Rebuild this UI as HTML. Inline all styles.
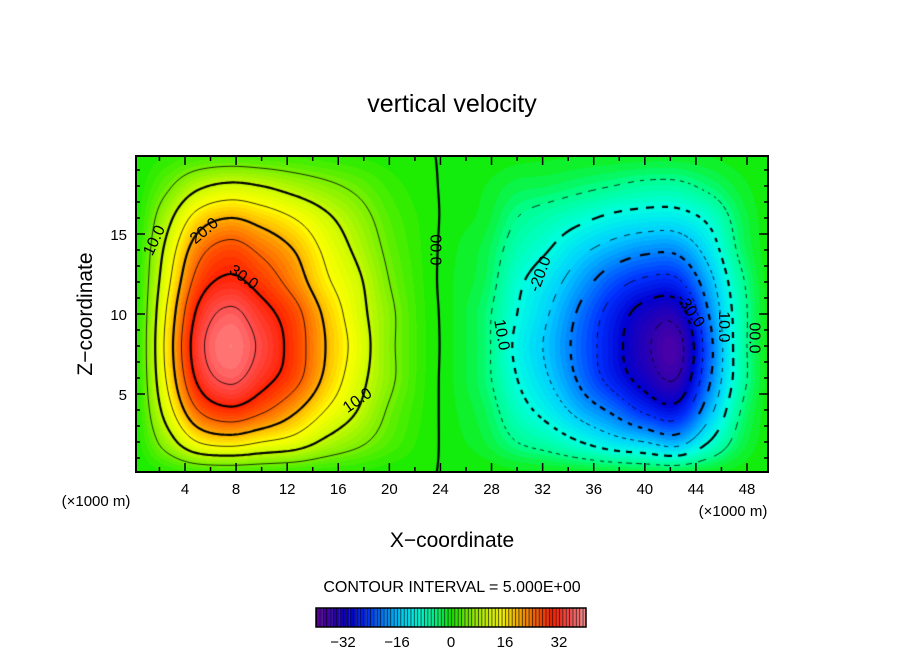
<!DOCTYPE html>
<html><head><meta charset="utf-8"><style>
body{margin:0;background:#fff;width:904px;height:654px;overflow:hidden;font-family:"Liberation Sans",sans-serif}
#wrap{position:relative;width:904px;height:654px}
canvas{position:absolute;left:0;top:0}
svg{position:absolute;left:0;top:0}
</style></head><body>
<div id="wrap">
<canvas id="cv" width="904" height="654"></canvas>
<svg id="sv" width="904" height="654"></svg>
</div>
<script>
// grid x coordinates (x1000 m) and z coordinates
const gridX = [0,2.5,5,7.5,10,12.5,15,17.5,20,22.5,25,27.5,30,32.5,35,37.5,40,42.5,45,47.5,50];
const gridZ = [0,2,4,6,8,10,12,14,16,18,20];
const field = [
[0,0.8,1.7,1.9,1.7,1.4,1,0.7,0.3,0.1,-0.1,-0.2,-0.6,-0.8,-1.1,-1.4,-1.7,-1.9,-1.1,-0.4,0],
[0,7,15,17,15,13,9,6,3,0.7,-0.5,-2,-5,-7,-10,-13,-15,-17,-10,-3,0],
[0,12,25,29,26,21,15,10,4.5,1.1,-0.8,-3,-8,-12,-17,-21,-26,-28,-17,-5,0],
[0,15,31,36,32,27,19,12,6,1.4,-1,-4,-10,-15,-21,-27,-32,-35,-21,-7,0],
[0,16,33,38,34,28,20,13,6,1.5,-1,-4,-11,-16,-22,-28,-34,-37,-22,-7,0],
[0,15,31,36,32,27,19,12,6,1.4,-1,-4,-10,-15,-21,-27,-32,-33,-20,-7,0],
[0,13,27,31,28,23,16,11,5,1.2,-1,-3,-9,-13,-18,-23,-26,-26,-17,-6,0],
[0,11,23,27,24,20,14,9,4,1,-0.8,-2.5,-7,-10,-14,-17,-19,-19,-13,-4,0],
[0,8,17,20,18,15,11,7,3,0.8,-0.5,-1.5,-5,-7,-9,-11,-12,-12,-9,-3,0],
[0,4,9,11,10,8,6,4,1.7,0.4,-0.3,-1,-2.5,-3,-4,-5,-6,-6,-4,-1.5,0],
[0,1,2,2.3,2,1.7,1.2,0.8,0.4,0.1,-0.1,-0.2,-0.5,-0.7,-0.9,-1.1,-1.2,-1.2,-0.9,-0.3,0]];
const xTicks = [4,8,12,16,20,24,28,32,36,40,44,48];
const zTicks = [5,10,15];
const cbTicks = [-32,-16,0,16,32];
const levels = [-35,-30,-25,-20,-15,-10,-5,0,5,10,15,20,25,30,35];
const labels = [
 {t:"10.0",x:1.6,z:14.6,r:-65},{t:"20.0",x:5.5,z:15.2,r:-40},{t:"30.0",x:8.6,z:12.3,r:35},
 {t:"10.0",x:17.5,z:4.6,r:-35},{t:"00.0",x:23.6,z:14,r:90},{t:"-20.0",x:31.8,z:12.5,r:-70},
 {t:"10.0",x:28.8,z:8.7,r:80},{t:"-30.0",x:43.6,z:10.2,r:55},{t:"10.0",x:46.2,z:9.2,r:90},{t:"00.0",x:48.6,z:8.5,r:90}];

const L=136,R=768,T=156,B=472;
function X(x){return 133.9+x*12.773;}
function Z(z){return 474-z*16;}
function cr(p0,p1,p2,p3,t){return 0.5*((2*p1)+(-p0+p2)*t+(2*p0-5*p1+4*p2-p3)*t*t+(-p0+3*p1-3*p2+p3)*t*t*t);}
function fv(j,i){j=Math.max(0,Math.min(gridZ.length-1,j));i=Math.max(0,Math.min(gridX.length-1,i));return field[j][i];}
function val(x,z){
  const fx=x/2.5, fz=z/2;
  const i=Math.max(0,Math.min(gridX.length-2,Math.floor(fx))), j=Math.max(0,Math.min(gridZ.length-2,Math.floor(fz)));
  const tx=fx-i, tz=fz-j, r=[];
  for(let k=-1;k<=2;k++) r.push(cr(fv(j+k,i-1),fv(j+k,i),fv(j+k,i+1),fv(j+k,i+2),tx));
  return cr(r[0],r[1],r[2],r[3],tz);
}
const stops=[[-40,[96,0,160]],[-35,[48,0,176]],[-30,[0,0,208]],[-25,[0,48,255]],[-20,[0,128,255]],[-15,[0,208,255]],[-10,[0,255,224]],[-5,[0,255,144]],[0,[20,235,0]],[5,[120,240,0]],[10,[200,250,0]],[15,[255,255,0]],[20,[255,176,0]],[25,[255,96,0]],[30,[255,32,0]],[35,[255,80,80]],[40,[255,150,150]]];
function col(v){
  v=Math.max(-40,Math.min(39.99,v));
  for(let k=0;k<stops.length-1;k++){const a=stops[k],b=stops[k+1];
    if(v>=a[0]&&v<=b[0]){const t=(v-a[0])/(b[0]-a[0]);return a[1].map((c,n)=>Math.round(c+(b[1][n]-c)*t));}}
  return stops[stops.length-1][1];
}
const cv=document.getElementById('cv'),ctx=cv.getContext('2d');
const W=R-L,H=B-T,img=ctx.createImageData(W,H);
for(let py=0;py<H;py++)for(let px=0;px<W;px++){
  const x=(L+px+0.5-133.9)/12.773, z=(474-(T+py+0.5))/16;
  const c=col(Math.floor(val(x,z))+0.5);const o=(py*W+px)*4;
  img.data[o]=c[0];img.data[o+1]=c[1];img.data[o+2]=c[2];img.data[o+3]=255;}
ctx.putImageData(img,L,T);
// contours via marching squares
const S=2,nx=Math.ceil(W/S)+1,nz=Math.ceil(H/S)+1,g=[];
for(let j=0;j<nz;j++){g.push([]);for(let i=0;i<nx;i++){g[j].push(val((L+i*S-133.9)/12.773,(474-(T+j*S))/16));}}
ctx.save();ctx.beginPath();ctx.rect(L,T,W,H);ctx.clip();
levels.forEach(lv=>{
  ctx.strokeStyle='#000';ctx.lineWidth=(lv%10===0)?2.2:0.8;ctx.beginPath();
  for(let j=0;j<nz-1;j++)for(let i=0;i<nx-1;i++){
    const a=g[j][i],b=g[j][i+1],c=g[j+1][i+1],d=g[j+1][i];
    const pts=[];
    const ed=(v1,v2,x1,y1,x2,y2)=>{if((v1-lv)*(v2-lv)<0){const t=(lv-v1)/(v2-v1);pts.push([x1+(x2-x1)*t,y1+(y2-y1)*t]);}};
    const x0=L+i*S,y0=T+j*S;
    ed(a,b,x0,y0,x0+S,y0);ed(b,c,x0+S,y0,x0+S,y0+S);ed(c,d,x0+S,y0+S,x0,y0+S);ed(d,a,x0,y0+S,x0,y0);
    if(pts.length>=2){
      if(lv<0){const m=(pts[0][0]+pts[1][0]+pts[0][1]+pts[1][1])/2;if(Math.floor(m/(lv%10===0?7:5))%2)continue;}
      ctx.moveTo(pts[0][0],pts[0][1]);ctx.lineTo(pts[1][0],pts[1][1]);
      if(pts.length===4){ctx.moveTo(pts[2][0],pts[2][1]);ctx.lineTo(pts[3][0],pts[3][1]);}
    }}
  ctx.stroke();
});
ctx.restore();
// colorbar
const cbL=316,cbR=586,cbT=608,cbB=627,cbU=(cbR-cbL)/80;
for(let v=-40;v<40;v++){const c=col(v+0.5);ctx.fillStyle=`rgb(${c[0]},${c[1]},${c[2]})`;ctx.fillRect(cbL+(v+40)*cbU,cbT,cbU,cbB-cbT);
  ctx.fillStyle='#000';ctx.fillRect(cbL+(v+40)*cbU,cbT,0.8,cbB-cbT);}
// SVG overlay
const NS='http://www.w3.org/2000/svg',sv=document.getElementById('sv');
function el(tag,attrs,txt){const e=document.createElementNS(NS,tag);for(const k in attrs)e.setAttribute(k,attrs[k]);if(txt!=null)e.textContent=txt;sv.appendChild(e);return e;}
let e;
e=el('rect',{x:L,y:T,width:W,height:H,fill:'none',stroke:'#000','stroke-width':2});


e=el('rect',{x:cbL,y:cbT,width:cbR-cbL,height:cbB-cbT,fill:'none',stroke:'#000','stroke-width':1.5});


for(let x=2;x<50;x+=2){const big=x%4===0,len=big?9:5;
  e=el('line',{x1:X(x),x2:X(x),y1:B,y2:B-len,stroke:'#000','stroke-width':1.5});
  
  
  e=el('line',{x1:X(x),x2:X(x),y1:T,y2:T+len,stroke:'#000','stroke-width':1.5});
  
  }
for(let z=1;z<20;z++){const big=z%5===0,len=big?9:4;
  e=el('line',{x1:L,x2:L+len,y1:Z(z),y2:Z(z),stroke:'#000','stroke-width':1.5});
  
  
  e=el('line',{x1:R,x2:R-len,y1:Z(z),y2:Z(z),stroke:'#000','stroke-width':1.5});
  
  }
xTicks.forEach(v=>{e=el('text',{x:X(v),y:494,'font-size':15,'text-anchor':'middle'},String(v));
  
  });
zTicks.forEach(v=>{e=el('text',{x:127,y:Z(v)+6,'font-size':15,'text-anchor':'end'},String(v));
  
  });
cbTicks.forEach(v=>{e=el('text',{x:cbL+(v+40)*cbU,y:647,'font-size':15,'text-anchor':'middle'},v<0?'\u2212'+(-v):String(v));
  
  });
labels.forEach(l=>{const px=X(l.x),py=Z(l.z);
  e=el('text',{x:px,y:py+5,'font-size':16,'text-anchor':'middle',transform:`rotate(${l.r} ${px} ${py})`},l.t);
  
  });
e=el('text',{x:452,y:112,'font-size':25,'text-anchor':'middle'},'vertical velocity');


e=el('text',{x:452,y:547,'font-size':21,'text-anchor':'middle'},'X\u2212coordinate');


e=el('text',{x:92,y:314,'font-size':21,'text-anchor':'middle',transform:'rotate(-90 92 314)'},'Z\u2212coordinate');


e=el('text',{x:96,y:506,'font-size':15,'text-anchor':'middle'},'(\u00d71000 m)');


e=el('text',{x:733,y:516,'font-size':15,'text-anchor':'middle'},'(\u00d71000 m)');


e=el('text',{x:452,y:592,'font-size':16,'text-anchor':'middle'},'CONTOUR INTERVAL = 5.000E+00');


</script>
</body></html>
